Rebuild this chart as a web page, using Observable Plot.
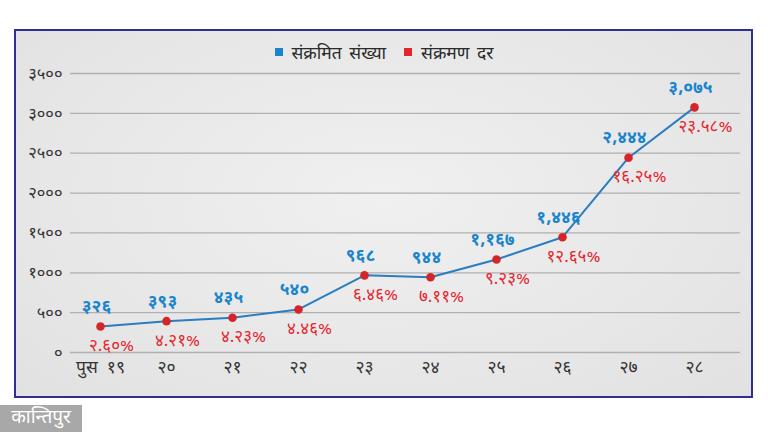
<!DOCTYPE html>
<html>
<head>
<meta charset="utf-8">
<script src="https://cdn.jsdelivr.net/npm/d3@7"></script>
<script src="https://cdn.jsdelivr.net/npm/@observablehq/plot@0.6"></script>
<style>
  html, body { margin: 0; padding: 0; background: #ffffff; }
  body { width: 768px; height: 432px; position: relative; overflow: hidden;
         font-family: "Noto Sans Devanagari", "Noto Sans", "DejaVu Sans", sans-serif; }
  #frame { position: absolute; left: 14px; top: 29px; width: 735px; height: 365px;
           border: 2px solid #2d3091;
           background: radial-gradient(ellipse at 50% 45%, #f0f0f1 0%, #e6e6e7 70%, #e1e1e2 100%); }
  #legend { position: absolute; left: 0; top: 43px; width: 768px; text-align: center;
            font-size: 17.5px; color: #2a2a2a; z-index: 2; word-spacing: 3px; }
  #legend span.item { display: inline-block; margin: 0 9px; }
  #legend i { display: inline-block; width: 8px; height: 8px; margin-right: 9px; vertical-align: 3px; }
  #chart { position: absolute; left: 0; top: 0; z-index: 1; }
  #logo { position: absolute; left: 0; top: 405px; width: 82px; height: 27px; background: #a8a8a8;
          color: #ffffff; font-size: 19px; line-height: 27px; text-align: center; }
</style>
</head>
<body>
<div id="frame"></div>
<div id="legend"></div>
<div id="chart"></div>
<div id="logo">कान्तिपुर</div>
<script>
// ---- data ----
const days = ["पुस १९", "२०", "२१", "२२", "२३", "२४", "२५", "२६", "२७", "२८"];
const infected = [326, 393, 435, 540, 968, 944, 1167, 1446, 2444, 3075];
const rates = [2.60, 4.21, 4.23, 4.46, 6.46, 7.11, 9.23, 12.65, 16.25, 23.58];
const yTicks = [0, 500, 1000, 1500, 2000, 2500, 3000, 3500];
const seriesNames = ["संक्रमित संख्या", "संक्रमण दर"];
const seriesColors = ["#1a84cc", "#e5262d"];

// ---- helpers ----
const devDigits = "०१२३४५६७८९";
const toDev = s => String(s).replace(/[0-9]/g, d => devDigits[+d]);
const fmtComma = d3.format(",");

const rows = days.map((d, i) => ({
  day: d,
  infected: infected[i],
  rate: rates[i],
  infLabel: toDev(fmtComma(infected[i])),
  rateLabel: toDev(rates[i].toFixed(2)) + "%"
}));

// legend
document.getElementById("legend").innerHTML = seriesNames.map((n, i) =>
  `<span class="item"><i style="background:${seriesColors[i]}"></i>${n}</span>`).join("");

const font = "'Noto Sans Devanagari', 'Noto Sans', 'DejaVu Sans', sans-serif";

const chart = Plot.plot({
  width: 768,
  height: 432,
  marginLeft: 70,
  marginRight: 28,
  marginTop: 73,
  marginBottom: 80,
  style: { background: "transparent", fontFamily: font, color: "#333333", overflow: "visible" },
  x: { type: "point", domain: days, padding: 0.516, align: 0.39, label: null },
  y: { domain: [0, 3500], label: null },
  marks: [
    Plot.ruleY(yTicks, { stroke: "#b0b0b0", strokeWidth: 1.3 }),
    Plot.axisY(yTicks, { tickSize: 0, tickPadding: 8, fontSize: 16.5, tickFormat: d => toDev(d), label: null }),
    Plot.axisX({ tickSize: 0, tickPadding: 8, fontSize: 17.5, label: null,
      tickFormat: d => d.replace(" ", "\u00a0\u00a0") }),
    Plot.line(rows, { x: "day", y: "infected", stroke: "#2a7dc0", strokeWidth: 2 }),
    Plot.dot(rows, { x: "day", y: "infected", r: 4.3, fill: "#d4252b", stroke: "none" }),
    Plot.text(rows, { x: "day", y: "infected", text: "infLabel", dx: -4, dy: -20,
      fill: "#1a84cc", fontSize: 17.5, fontWeight: "bold" }),
    Plot.text(rows, { x: "day", y: "infected", text: "rateLabel", dx: 11, dy: 19,
      fill: "#e5262d", fontSize: 17 })
  ]
});
document.getElementById("chart").appendChild(chart);
</script>
</body>
</html>
